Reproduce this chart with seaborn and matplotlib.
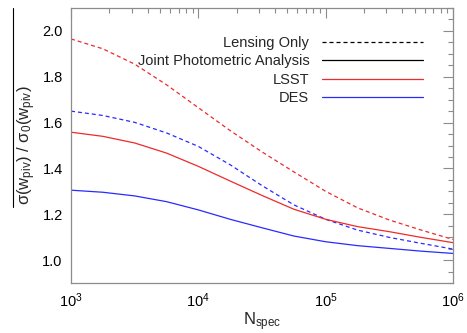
import numpy as np
import pandas as pd
import matplotlib
matplotlib.use("Agg")
import matplotlib.pyplot as plt
import seaborn as sns
from matplotlib.lines import Line2D
from matplotlib.ticker import FixedLocator, FuncFormatter, LogLocator, MultipleLocator

# ---- data ----
log_n = [3.0, 3.25, 3.5, 3.75, 4.0, 4.25, 4.5, 4.75, 5.0, 5.25, 5.5, 5.75, 6.0]
lsst_lensing = [1.965, 1.922, 1.855, 1.765, 1.665, 1.565, 1.472, 1.385, 1.30, 1.228, 1.175, 1.131, 1.09]
des_lensing = [1.650, 1.631, 1.601, 1.555, 1.496, 1.416, 1.325, 1.241, 1.178, 1.131, 1.099, 1.073, 1.048]
lsst_joint = [1.558, 1.540, 1.511, 1.467, 1.409, 1.345, 1.282, 1.222, 1.178, 1.146, 1.124, 1.099, 1.076]
des_joint = [1.305, 1.296, 1.280, 1.255, 1.219, 1.178, 1.141, 1.105, 1.080, 1.063, 1.051, 1.039, 1.029]
legend_labels = ["Lensing Only", "Joint Photometric Analysis", "LSST", "DES"]

n_spec = [10 ** v for v in log_n]
rows = []
for survey, analysis, vals in [("LSST", "Lensing", lsst_lensing), ("DES", "Lensing", des_lensing),
                               ("LSST", "Joint", lsst_joint), ("DES", "Joint", des_joint)]:
    for n, v in zip(n_spec, vals):
        rows.append({"N": n, "ratio": v, "survey": survey, "analysis": analysis})
df = pd.DataFrame(rows)

sns.set_theme(style="white")
plt.rcParams["font.family"] = ["Liberation Sans", "DejaVu Sans"]
plt.rcParams["mathtext.fontset"] = "custom"
plt.rcParams["mathtext.rm"] = "Liberation Sans"
plt.rcParams["mathtext.it"] = "Liberation Sans"
plt.rcParams["mathtext.default"] = "regular"

RED = "#ee2a2a"
BLUE = "#2a2aff"
GRAY = "#8c8c8c"

fig = plt.figure(figsize=(4.67, 3.33), dpi=100)
ax = fig.add_axes([71 / 467, 1 - 283 / 333, (453 - 71) / 467, (283 - 8) / 333])

colors = {"LSST": RED, "DES": BLUE}
styles = {"Lensing": (0, (3.2, 2.4)), "Joint": "-"}
for (survey, analysis), sub in df.groupby(["survey", "analysis"]):
    sns.lineplot(data=sub, x="N", y="ratio", ax=ax, color=colors[survey],
                 linestyle=styles[analysis], linewidth=0.9, legend=False)

ax.set_xscale("log")
ax.set_xlim(1e3, 1e6)
ax.set_ylim(0.9, 2.1)
ax.xaxis.set_major_locator(FixedLocator([1e3, 1e4, 1e5, 1e6]))
ax.xaxis.set_minor_locator(LogLocator(base=10, subs=np.arange(2, 10)))
ax.xaxis.set_major_formatter(FuncFormatter(lambda v, p: r"$10^{%d}$" % round(np.log10(v))))
ax.yaxis.set_major_locator(MultipleLocator(0.2))
ax.yaxis.set_minor_locator(MultipleLocator(0.05))
ax.yaxis.set_major_formatter(FuncFormatter(lambda v, p: "%.1f" % v))

for s in ax.spines.values():
    s.set_color(GRAY)
    s.set_linewidth(0.9)
ax.tick_params(which="both", direction="in", top=True, right=True, color=GRAY,
               labelsize=10.5, labelcolor="black")
ax.tick_params(which="major", length=7, width=0.8, pad=6)
ax.tick_params(which="minor", length=3.5, width=0.8)

ax.set_xlabel(r"$N_{spec}$", fontsize=12, labelpad=0)
ax.set_ylabel(r"$\sigma(w_{piv})\ /\ \sigma_0(w_{piv})$", fontsize=12, labelpad=3)

handles = [Line2D([], [], color="black", linestyle=(0, (3.2, 2.4)), linewidth=0.9),
           Line2D([], [], color="black", linewidth=0.9),
           Line2D([], [], color=RED, linewidth=0.9),
           Line2D([], [], color=BLUE, linewidth=0.9)]
leg = ax.legend(handles, legend_labels, loc="upper right", bbox_to_anchor=(423 / 467, 1 - 36 / 333),
                bbox_transform=fig.transFigure, frameon=False, markerfirst=False,
                handlelength=6.9, handletextpad=0.9, labelspacing=0.3, fontsize=10.5,
                borderpad=0, borderaxespad=0)

# thin vertical stroke left of the y label, as in the reference
fig.add_artist(Line2D([13 / 467, 13 / 467], [1 - 8 / 333, 1 - 207 / 333],
                      transform=fig.transFigure, color="black", linewidth=0.8))

fig.savefig("out.png", dpi=100)
